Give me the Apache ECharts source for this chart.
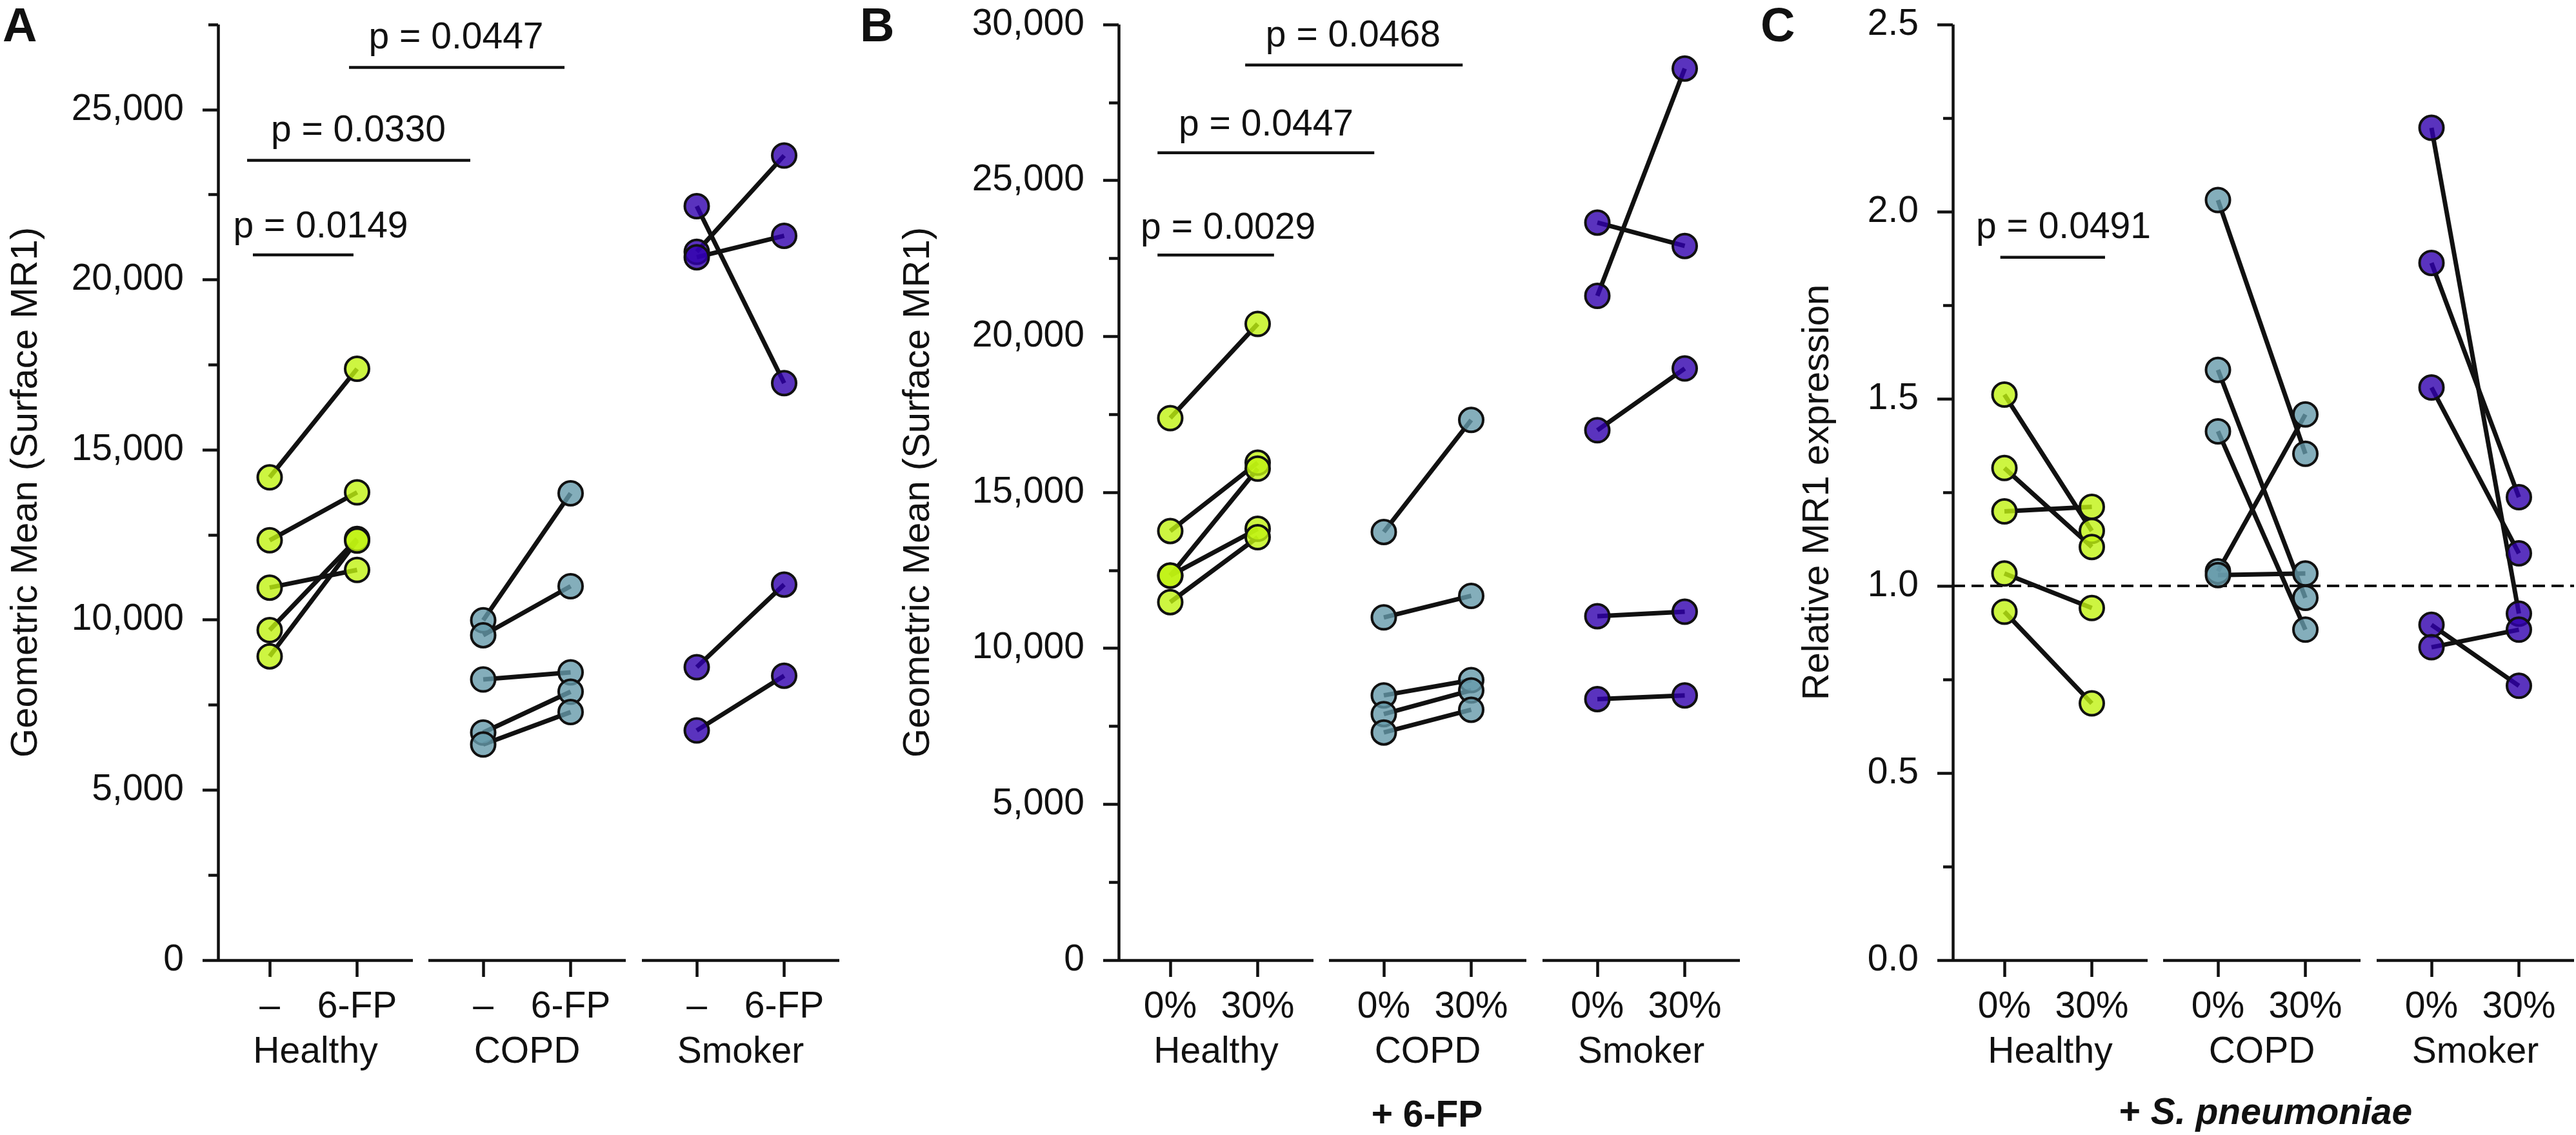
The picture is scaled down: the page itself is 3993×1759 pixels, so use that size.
<!DOCTYPE html>
<html><head><meta charset="utf-8">
<script src="https://cdn.jsdelivr.net/npm/echarts@6/dist/echarts.min.js"></script>
<style>html,body{margin:0;padding:0;background:#fff}#c{width:3993px;height:1759px}</style>
</head><body><div id="c"></div>
<script>
// ---------------- DATA ----------------
const groups = ['Healthy', 'COPD', 'Smoker'];
const condA = ['–', '6-FP'];
const condBC = ['0%', '30%'];

// Panel A: Geometric Mean (Surface MR1), untreated vs 6-FP
const A_healthy_pre  = [14190, 12340, 10950, 9700, 8930];
const A_healthy_post = [17380, 13750, 11470, 12380, 12330];
const A_copd_pre     = [9990, 9550, 8250, 6690, 6340];
const A_copd_post    = [13720, 10990, 8460, 7890, 7290];
const A_smoker_pre   = [22160, 20820, 20660, 8610, 6750];
const A_smoker_post  = [16960, 23650, 21290, 11040, 8360];
const A_yTicks = [0, 5000, 10000, 15000, 20000, 25000];
const A_pvalues = ['p = 0.0447', 'p = 0.0330', 'p = 0.0149'];
const A_barX = [[0.908, 3.373], [-0.258, 2.295], [-0.192, 0.959]];
const A_barY = [26240, 23510, 20730];
const A_txtX = [2.137, 1.018, 0.587];
const A_txtY = [27080, 24350, 21530];

// Panel B: + 6-FP, 0% vs 30%
const B_healthy_0  = [17380, 13760, 12330, 12330, 11480];
const B_healthy_30 = [20400, 15950, 15760, 13830, 13560];
const B_copd_0     = [13730, 10990, 8490, 7890, 7300];
const B_copd_30    = [17320, 11680, 8980, 8650, 8030];
const B_smoker_0   = [23650, 21300, 16990, 11030, 8370];
const B_smoker_30  = [22900, 28590, 18970, 11170, 8490];
const B_yTicks = [0, 5000, 10000, 15000, 20000, 25000, 30000];
const B_pvalues = ['p = 0.0468', 'p = 0.0447', 'p = 0.0029'];
const B_barX = [[0.857, 3.345], [-0.146, 2.334], [-0.146, 1.187]];
const B_barY = [28700, 25890, 22610];
const B_txtX = [2.095, 1.100, 0.665];
const B_txtY = [29610, 26750, 23450];

// Panel C: + S. pneumoniae, relative MR1 expression
const C_healthy_0  = [1.511, 1.315, 1.199, 1.033, 0.931];
const C_healthy_30 = [1.147, 1.104, 1.211, 0.941, 0.686];
const C_copd_0     = [2.031, 1.577, 1.413, 1.039, 1.029];
const C_copd_30    = [1.353, 0.968, 0.883, 1.458, 1.033];
const C_smoker_0   = [2.224, 1.863, 1.530, 0.896, 0.836];
const C_smoker_30  = [0.926, 1.237, 1.087, 0.733, 0.883];
const C_yTicks = [0, 0.5, 1.0, 1.5, 2.0, 2.5];
const C_pvalues = ['p = 0.0491'];
const C_barX = [[-0.047, 1.151]];
const C_barY = [1.878];
const C_txtX = [0.679];
const C_txtY = [1.955];
const C_reference = 1.0;

// ---------------- LAYOUT / STYLE ----------------
const FONT = '"Liberation Sans", Arial, Helvetica, sans-serif';
const INK = '#111111';
const FS = 57;
const TICK = 135.5;                       // px between the two conditions
const SEGS = [[0, 302, 80], [326, 632, 411], [657, 963, 742]]; // [start,end,firstTick] rel. to y-axis
const OVER = [0, 963, 80];
const GRID_TOP = 38, GRID_H = 1450;
const FILLS = ['rgba(192,243,18,0.8)', 'rgba(101,154,170,0.8)', 'rgba(49,0,174,0.8)'];

const panels = [
  { Y: 338, letter: 'A', letterX: 4, conds: condA,
    pre: [A_healthy_pre, A_copd_pre, A_smoker_pre], post: [A_healthy_post, A_copd_post, A_smoker_post],
    yMax: 27500, minor: 2500, major: 5000, yTicks: A_yTicks, fmt: v => Math.round(v).toLocaleString('en-US'),
    title: 'Geometric Mean (Surface MR1)', nameGap: 297,
    pv: A_pvalues, barX: A_barX, barY: A_barY, txtX: A_txtX, txtY: A_txtY },
  { Y: 1734, letter: 'B', letterX: 1333, conds: condBC,
    pre: [B_healthy_0, B_copd_0, B_smoker_0], post: [B_healthy_30, B_copd_30, B_smoker_30],
    yMax: 30000, minor: 2500, major: 5000, yTicks: B_yTicks, fmt: v => Math.round(v).toLocaleString('en-US'),
    title: 'Geometric Mean (Surface MR1)', nameGap: 310,
    pv: B_pvalues, barX: B_barX, barY: B_barY, txtX: B_txtX, txtY: B_txtY },
  { Y: 3027, letter: 'C', letterX: 2729, conds: condBC,
    pre: [C_healthy_0, C_copd_0, C_smoker_0], post: [C_healthy_30, C_copd_30, C_smoker_30],
    yMax: 2.5, minor: 0.25, major: 0.5, yTicks: C_yTicks, fmt: v => v.toFixed(1),
    title: 'Relative MR1 expression', nameGap: 209,
    pv: C_pvalues, barX: C_barX, barY: C_barY, txtX: C_txtX, txtY: C_txtY, ref: C_reference }
];

const grid = [], xAxis = [], yAxis = [], series = [];
const axLine = { show: true, onZero: false, lineStyle: { color: INK, width: 4.5, cap: 'butt' } };

panels.forEach((P) => {
  SEGS.forEach((s, gi) => {
    const gIndex = grid.length;
    grid.push({ left: P.Y + s[0], top: GRID_TOP, width: s[1] - s[0], height: GRID_H });
    const xi = xAxis.length;
    xAxis.push({
      type: 'value', gridIndex: gIndex,
      min: (s[0] - s[2]) / TICK, max: (s[1] - s[2]) / TICK,
      axisLine: axLine,
      axisTick: { show: true, customValues: [0, 1], length: 26, lineStyle: { color: INK, width: 4.5 } },
      axisLabel: { show: true, customValues: [0, 1], formatter: v => P.conds[Math.round(v)],
        margin: 73, verticalAlign: 'middle', fontSize: FS, fontFamily: FONT, color: INK },
      splitLine: { show: false },
      name: groups[gi], nameLocation: 'middle', nameGap: 143,
      nameTextStyle: { fontSize: FS, fontFamily: FONT, color: INK, verticalAlign: 'middle' }
    });
    const yi = yAxis.length;
    yAxis.push({
      type: 'value', gridIndex: gIndex, min: 0, max: P.yMax, interval: P.minor,
      show: gi === 0, position: 'left',
      axisLine: axLine,
      axisTick: { show: true, length: 15, lineStyle: { color: INK, width: 4.5 } },
      axisLabel: { show: false }, splitLine: { show: false }
    });
    if (gi === 0) {
      yAxis.push({
        type: 'value', gridIndex: gIndex, min: 0, max: P.yMax, interval: P.major, position: 'left',
        axisLine: { show: false, onZero: false },
        axisTick: { show: true, customValues: P.yTicks, length: 24, lineStyle: { color: INK, width: 4.5 } },
        axisLabel: { show: true, customValues: P.yTicks, formatter: P.fmt, margin: 53,
          fontSize: FS, fontFamily: FONT, color: INK },
        splitLine: { show: false },
        name: P.title, nameLocation: 'middle', nameGap: P.nameGap,
        nameTextStyle: { fontSize: 58, fontFamily: FONT, color: INK, verticalAlign: 'middle' }
      });
    }
    // connecting lines
    P.pre[gi].forEach((v, i) => {
      series.push({ type: 'line', xAxisIndex: xi, yAxisIndex: yi, silent: true, animation: false,
        symbol: 'none', z: 2, lineStyle: { color: INK, width: 7 },
        data: [[0, v], [1, P.post[gi][i]]] });
    });
    // points
    series.push({ type: 'scatter', xAxisIndex: xi, yAxisIndex: yi, silent: true, animation: false, z: 3,
      symbol: 'circle', symbolSize: 37,
      itemStyle: { color: FILLS[gi], borderColor: INK, borderWidth: 4, opacity: 1 },
      data: P.pre[gi].map(v => [0, v]).concat(P.post[gi].map(v => [1, v])) });
  });
  // overlay grid for annotations
  const oIndex = grid.length;
  grid.push({ left: P.Y + OVER[0], top: GRID_TOP, width: OVER[1] - OVER[0], height: GRID_H });
  const oxi = xAxis.length;
  xAxis.push({ type: 'value', gridIndex: oIndex, show: false,
    min: (OVER[0] - OVER[2]) / TICK, max: (OVER[1] - OVER[2]) / TICK, splitLine: { show: false } });
  const oyi = yAxis.length;
  yAxis.push({ type: 'value', gridIndex: oIndex, show: false, min: 0, max: P.yMax, splitLine: { show: false } });
  P.barX.forEach((bx, k) => {
    series.push({ type: 'line', xAxisIndex: oxi, yAxisIndex: oyi, silent: true, animation: false,
      symbol: 'none', z: 2, lineStyle: { color: INK, width: 4.5 },
      data: [[bx[0], P.barY[k]], [bx[1], P.barY[k]]] });
  });
  series.push({ type: 'scatter', xAxisIndex: oxi, yAxisIndex: oyi, silent: true, animation: false,
    symbol: 'circle', symbolSize: 1, itemStyle: { color: '#ffffff', opacity: 0 }, z: 4,
    label: { show: true, position: [0, 0], align: 'center', verticalAlign: 'middle',
      formatter: d => d.name, fontSize: FS, fontFamily: FONT, color: '#111111',
      textBorderWidth: 0, opacity: 1 },
    data: P.pv.map((t, k) => ({ name: t, value: [P.txtX[k], P.txtY[k]] })) });
  if (P.ref !== undefined) {
    series.push({ type: 'line', xAxisIndex: oxi, yAxisIndex: oyi, silent: true, animation: false,
      symbol: 'none', z: 1, lineStyle: { color: INK, width: 4, type: [19, 10] },
      data: [[(OVER[0] - OVER[2]) / TICK, P.ref], [(OVER[1] - OVER[2]) / TICK, P.ref]] });
  }
});

const graphic = panels.map(P => ({
  type: 'text', x: P.letterX, y: 44, silent: true,
  style: { text: P.letter, font: 'bold 74px ' + FONT, fill: INK, align: 'left', verticalAlign: 'middle',
    textAlign: 'left', textVerticalAlign: 'middle' }
}));
graphic.push({ type: 'text', x: 2212, y: 1730, silent: true,
  style: { text: '+ 6-FP', font: 'bold 57px ' + FONT, fill: INK, align: 'center', verticalAlign: 'middle',
    textAlign: 'center', textVerticalAlign: 'middle' } });
graphic.push({ type: 'text', x: 3512, y: 1726, silent: true,
  style: { text: '{n|+ }{i|S. pneumoniae}', fill: INK, align: 'center', verticalAlign: 'middle',
    textAlign: 'center', textVerticalAlign: 'middle',
    rich: { n: { font: 'bold 57px ' + FONT, fill: INK }, i: { font: 'italic bold 57px ' + FONT, fill: INK } } } });

const chart = echarts.init(document.getElementById('c'), null, { renderer: 'canvas' });
chart.setOption({ animation: false, backgroundColor: '#ffffff', grid, xAxis, yAxis, series, graphic });
</script></body></html>
